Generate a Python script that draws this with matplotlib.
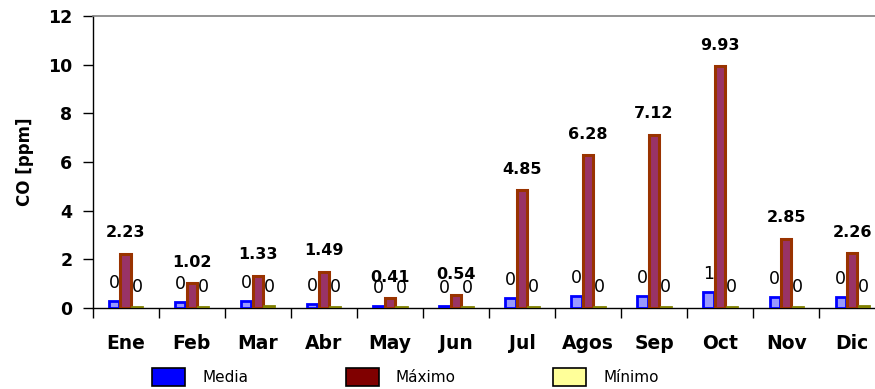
import matplotlib
matplotlib.use("Agg")
import matplotlib.pyplot as plt
import numpy as np
from matplotlib.patches import Patch

# Monthly CO concentrations (ppm)
meses = ["Ene", "Feb", "Mar", "Abr", "May", "Jun", "Jul", "Agos", "Sep", "Oct", "Nov", "Dic"]
media = [0.30, 0.26, 0.28, 0.18, 0.10, 0.10, 0.40, 0.48, 0.48, 0.65, 0.47, 0.45]
maximo = [2.23, 1.02, 1.33, 1.49, 0.41, 0.54, 4.85, 6.28, 7.12, 9.93, 2.85, 2.26]
minimo = [0.06, 0.05, 0.07, 0.05, 0.04, 0.04, 0.05, 0.05, 0.05, 0.05, 0.06, 0.07]

plt.rcParams['font.family'] = ['DejaVu Sans']

fig = plt.figure(figsize=(8.75, 3.89), dpi=100)
ax = fig.add_axes([0.1058, 0.2082, 0.906, 0.7506])

x = np.arange(len(meses))
w = 0.155
off = 0.175

ax.bar(x - off, media, w, facecolor="#9999FF", edgecolor="#0000FF", linewidth=2.0, zorder=3)
ax.bar(x, maximo, w, facecolor="#993366", edgecolor="#993300", linewidth=2.2, zorder=3)
ax.bar(x + off, minimo, w, facecolor="#FFFF99", edgecolor="#808000", linewidth=2.0, zorder=3)

# value labels over each bar
for i in range(len(meses)):
    ax.annotate("%.2f" % maximo[i], (x[i], maximo[i]), xytext=(0, 15), textcoords="offset points",
                ha="center", va="center", fontsize=11.5, fontweight="bold", zorder=4)
    ax.annotate("%d" % round(media[i]), (x[i] - off, media[i]), xytext=(0, 13), textcoords="offset points",
                ha="center", va="center", fontsize=12.5, zorder=4)
    ax.annotate("%d" % round(minimo[i]), (x[i] + off, minimo[i]), xytext=(0, 14), textcoords="offset points",
                ha="center", va="center", fontsize=12.5, zorder=4)

ax.set_xlim(-0.5, 11.5)
ax.set_ylim(0, 12)
ax.set_yticks(range(0, 13, 2))
ax.set_xticks(x)
ax.set_xticklabels(meses, fontsize=13.5, fontweight="bold")
ax.set_xticks(np.arange(-0.5, 12, 1), minor=True)
ax.tick_params(axis="x", which="major", length=0, pad=19)
ax.tick_params(axis="x", which="minor", length=7, width=1, direction="out")
ax.tick_params(axis="y", length=7, width=1, direction="out", pad=7.5)
for lbl in ax.get_yticklabels():
    lbl.set_fontsize(12.5)
    lbl.set_fontweight("bold")

ax.set_ylabel("CO [ppm]", fontsize=12, fontweight="bold", labelpad=10)

ax.spines["right"].set_visible(False)
ax.spines["top"].set_color("#808080")
ax.spines["top"].set_linewidth(1.2)
ax.spines["left"].set_linewidth(1)
ax.spines["bottom"].set_linewidth(1)

# legend with solid swatches
handles = [Patch(facecolor="#0000FF", edgecolor="black", linewidth=1.2),
           Patch(facecolor="#800000", edgecolor="black", linewidth=1.2),
           Patch(facecolor="#FFFF99", edgecolor="black", linewidth=1.2)]
fig.legend(handles, ["Media", "Máximo", "Mínimo"], loc="center", bbox_to_anchor=(0.4634, 0.031),
           ncol=3, frameon=False, prop={"size": 11},
           handlelength=2.16, handleheight=1.5, handletextpad=1.1, columnspacing=6.4, borderpad=0)

fig.savefig("out.png", dpi=100)
